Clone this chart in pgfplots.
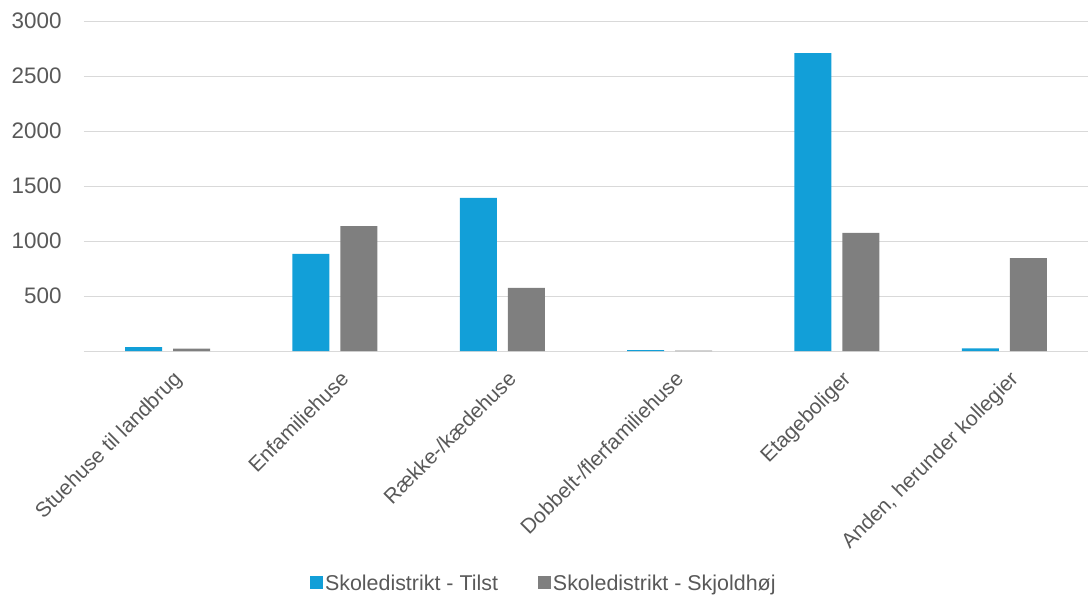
\documentclass[border=0pt]{standalone}
\usepackage{pgfplots}
\pgfplotsset{compat=1.18}
\usepackage{fontspec}
\setmainfont{Liberation Sans}
\definecolor{cblue}{HTML}{129FD8}
\definecolor{cgray}{HTML}{7F7F7F}
\definecolor{gridc}{HTML}{D9D9D9}
\definecolor{txt}{HTML}{595959}
\begin{document}
\begin{tikzpicture}
\useasboundingbox (-84bp,-253bp) rectangle (1004bp,351bp);
\begin{axis}[
  at={(0,0)}, anchor=south west,
  scale only axis, width=1004bp, height=330bp,
  ymin=0, ymax=3000, xmin=-0.5, xmax=5.5,
  ybar=11bp, bar width=37bp,
  ytick={500,1000,...,3000},
  extra y ticks={0}, extra y tick labels={},
  extra y tick style={grid=major},
  xtick={0,...,5},
  xticklabels={Stuehuse til landbrug,Enfamiliehuse,Række-/kædehuse,Dobbelt-/flerfamiliehuse,Etageboliger,{Anden, herunder kollegier}},
  xticklabel style={rotate=45, anchor=north east, inner sep=0bp, yshift=-13bp, xshift=-7bp, font=\fontsize{21}{25}\selectfont, text=txt},
  yticklabel style={font=\fontsize{22.5}{26}\selectfont, text=txt, xshift=-19bp},
  /pgf/number format/assume math mode=true,
  /pgf/number format/1000 sep={},
  xmajorgrids=false,
  ymajorgrids=true, grid style={draw=gridc, line width=1bp},
  axis line style={draw=none},
  tick style={draw=none},
  legend style={at={(0.458,-0.703)}, anchor=center, draw=none, legend columns=2, font=\fontsize{21.5}{25}\selectfont, text=txt, /tikz/every even column/.append style={column sep=38bp}},
  legend image code/.code={\fill[#1] (0bp,-6.5bp) rectangle (13bp,6.5bp);},
]
\addplot[fill=cblue, draw=none] coordinates {(0,36) (1,882) (2,1391) (3,8) (4,2709) (5,25)};
\addplot[fill=cgray, draw=none] coordinates {(0,22) (1,1136) (2,573) (3,4) (4,1073) (5,845)};
\legend{Skoledistrikt - Tilst, Skoledistrikt - Skjoldhøj}
\end{axis}
\end{tikzpicture}
\end{document}
